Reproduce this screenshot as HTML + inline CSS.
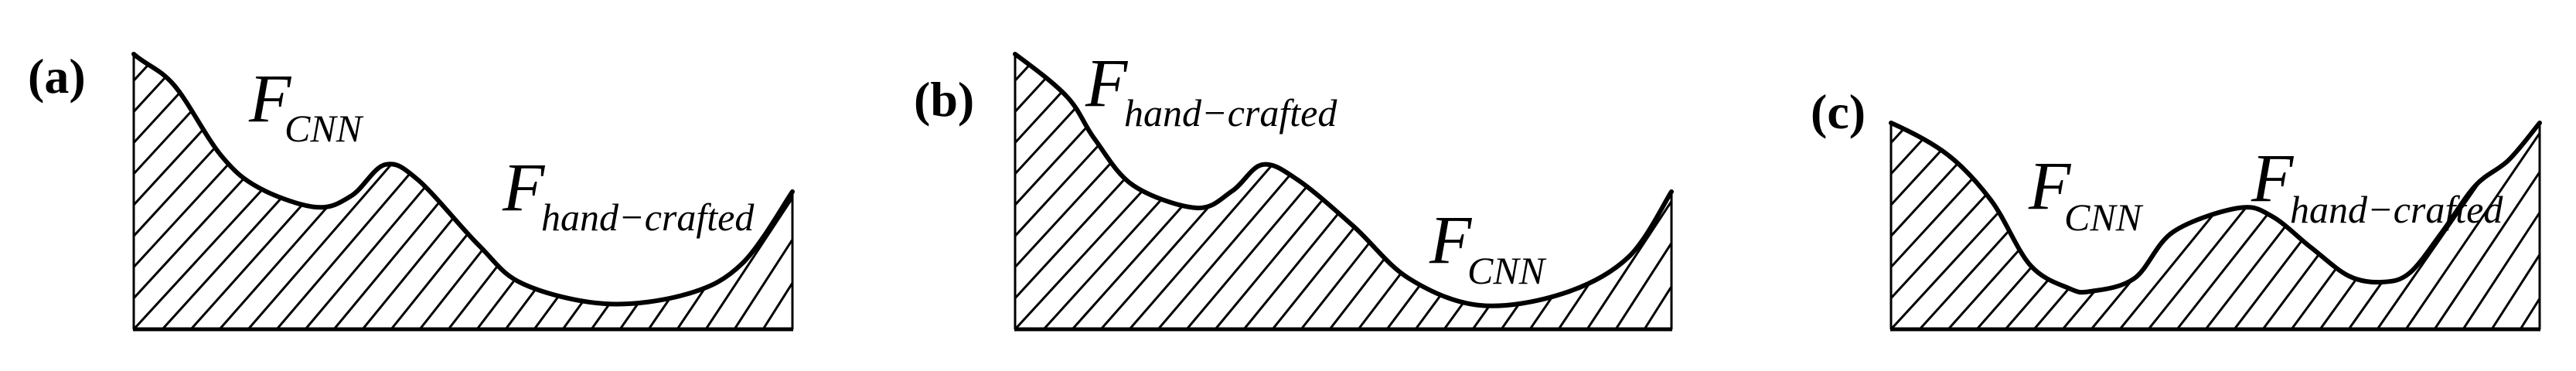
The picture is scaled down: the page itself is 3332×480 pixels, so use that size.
<!DOCTYPE html>
<html><head><meta charset="utf-8">
<style>
html,body{margin:0;padding:0;background:#fff;}
svg{display:block;}
text{font-family:"Liberation Serif",serif;fill:#000;}
.F{font-style:italic;font-size:89px;}
.s{font-style:italic;font-size:50px;}
.lab{font-weight:bold;font-size:64px;}
</style></head>
<body>
<svg id="svg" width="3332" height="480" viewBox="0 0 3332 480" xmlns="http://www.w3.org/2000/svg">
<defs id="defs"></defs>
<g id="g"></g>
<text class="lab" x="36" y="120">(a)</text>
<text class="F" x="322" y="157">F</text><text class="s" x="368" y="183">CNN</text>
<text class="F" x="650" y="272">F</text><text class="s" x="700" y="298">hand−crafted</text>

<text class="lab" x="1182" y="150">(b)</text>
<text class="F" x="1404" y="137">F</text><text class="s" x="1454" y="163">hand−crafted</text>
<text class="F" x="1849" y="340">F</text><text class="s" x="1898" y="367">CNN</text>

<text class="lab" x="2342" y="166">(c)</text>
<text class="F" x="2624" y="270">F</text><text class="s" x="2670" y="298">CNN</text>
<text class="F" x="2912" y="260">F</text><text class="s" x="2962" y="288">hand−crafted</text>
</svg>
<script>
var panels=[
 {L:173,R:1025,B:426,t0:[1,1.3],pts:[[173,70],[225,110],[285,200],[335,243],[409,268],[455,253],[498,213],[541,233],[619,317],[676,367],[783,393],[890,380],[961,340],[1025,248]]},
 {L:1313,R:2162,B:426,t0:[1,0.8],pts:[[1313,70],[1380,125],[1416,180],[1466,240],[1548,269],[1594,247],[1633,213],[1679,233],[1751,293],[1822,360],[1914,395],[2021,380],[2106,333],[2162,248]]},
 {L:2446,R:3285,B:426,t0:[1,0.6],pts:[[2446,159],[2519,200],[2576,260],[2626,343],[2676,373],[2704,377],[2761,360],[2811,300],[2896,269],[2939,280],[2989,320],[3038,357],[3081,365],[3117,353],[3159,300],[3202,240],[3245,207],[3285,159]]}
];
var NS="http://www.w3.org/2000/svg";
var g=document.getElementById('g'),defs=document.getElementById('defs');
function el(n,a,p){var e=document.createElementNS(NS,n);for(var k in a)e.setAttribute(k,a[k]);(p||g).appendChild(e);return e;}
function cr(p,t0){var d="M"+p[0][0]+","+p[0][1];for(var i=0;i<p.length-1;i++){var p1=p[i],p2=p[i+1],p3=p[i+2]||p2;
 var p0=p[i-1]||[p1[0]-(p2[0]-p1[0]),p1[1]-(p2[1]-p1[1])*t0[1]];
 var c1=[p1[0]+(p2[0]-p0[0])/6,p1[1]+(p2[1]-p0[1])/6],c2=[p2[0]-(p3[0]-p1[0])/6,p2[1]-(p3[1]-p1[1])/6];
 d+=" C"+c1[0].toFixed(1)+","+c1[1].toFixed(1)+" "+c2[0].toFixed(1)+","+c2[1].toFixed(1)+" "+p2[0]+","+p2[1];}return d;}
panels.forEach(function(P,i){
 var c=cr(P.pts,P.t0);
 var area=c+" L"+P.R+","+P.B+" L"+P.L+","+P.B+" Z";
 var cp=el('clipPath',{id:'c'+i},defs);el('path',{d:area},cp);
 var hg=el('g',{'clip-path':'url(#c'+i+')'});
 for(var k=-12;k<40;k++){var x0=P.L+k*37;if(x0>P.R+5)break;
  var t=Math.max(0,Math.min(1,(x0-P.L)/(P.R-P.L)));var s=0.92-0.3*t;
  el('line',{x1:x0,y1:P.B,x2:x0+s*400,y2:P.B-400,stroke:'#000','stroke-width':3},hg);}
 el('line',{x1:P.L,y1:P.pts[0][1],x2:P.L,y2:P.B,stroke:'#000','stroke-width':3});
 el('line',{x1:P.R,y1:P.pts[P.pts.length-1][1],x2:P.R,y2:P.B,stroke:'#000','stroke-width':3});
 el('line',{x1:P.L-1,y1:P.B,x2:P.R+1,y2:P.B,stroke:'#000','stroke-width':5});
 el('path',{d:c,fill:'none',stroke:'#000','stroke-width':6,'stroke-linecap':'round'});
});
</script>
</body></html>
